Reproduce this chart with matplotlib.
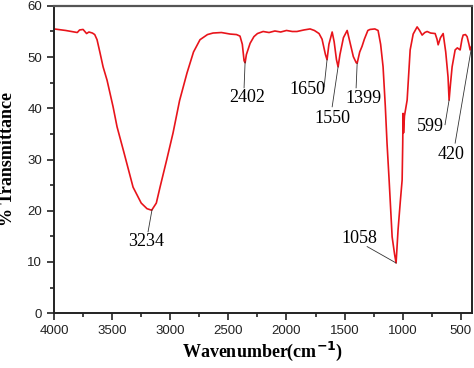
import matplotlib; matplotlib.use("Agg")
import matplotlib.pyplot as plt
from matplotlib.ticker import MultipleLocator

# traced FTIR spectrum (wavenumber cm-1, % transmittance)
wavenumber = [4000, 3900, 3850, 3800, 3780, 3750, 3720, 3700, 3670, 3650, 3630,
              3604, 3578, 3544, 3492, 3458, 3400, 3320, 3250, 3200, 3160, 3120,
              3088, 3030, 2976, 2920, 2856, 2800, 2744, 2680, 2632, 2560, 2485,
              2430, 2400, 2380, 2365, 2356, 2345, 2313, 2280, 2250, 2201, 2150,
              2100, 2050, 2000, 1950, 1910, 1850, 1797, 1760, 1720, 1694, 1665,
              1651, 1635, 1607, 1590, 1570, 1556, 1540, 1510, 1478, 1455, 1425,
              1400, 1392, 1370, 1350, 1330, 1300, 1281, 1240, 1212, 1190, 1169,
              1150, 1135, 1117, 1091, 1070, 1057, 1040, 1020, 1005, 1000, 997,
              993, 985, 962, 936, 910, 876, 855, 833, 810, 790, 760, 721, 705,
              695, 675, 652, 630, 610, 601, 590, 575, 549, 530, 506, 490, 480,
              460, 446, 430, 420, 410, 403]
transmittance = [55.5, 55.2, 55.0, 54.8, 55.3, 55.4, 54.6, 54.9, 54.7, 54.4, 53.4,
                 50.8, 48.1, 45.5, 40.3, 36.4, 31.5, 24.6, 21.5, 20.4, 20.1, 21.5,
                 24.6, 30.0, 35.2, 41.5, 46.9, 51.0, 53.4, 54.4, 54.7, 54.8, 54.5,
                 54.4, 54.1, 52.5, 49.3, 48.9, 50.5, 52.7, 54.0, 54.6, 55.0, 54.8,
                 55.1, 54.9, 55.2, 55.0, 55.0, 55.3, 55.5, 55.2, 54.6, 53.5, 50.5,
                 49.5, 52.5, 54.9, 53.0, 49.5, 48.1, 50.5, 53.8, 55.2, 53.0, 50.1,
                 48.9, 48.8, 51.0, 52.1, 53.5, 55.2, 55.4, 55.5, 55.2, 52.5, 48.1,
                 40.5, 33.2, 26.0, 14.9, 11.5, 9.8, 16.3, 22.0, 26.0, 33.0, 39.0,
                 35.2, 38.5, 41.6, 51.4, 54.5, 55.9, 55.2, 54.3, 54.8, 55.0, 54.7,
                 54.6, 53.5, 52.4, 53.8, 54.6, 51.0, 46.1, 41.6, 44.5, 48.1, 51.4,
                 51.8, 51.4, 53.5, 54.3, 54.4, 54.0, 52.5, 51.4, 52.0, 52.4]

# peak labels: text, peak point, text centre, leader-line start
peak_labels = ["3234", "2402", "1650", "1550", "1399", "1058", "599", "420"]
peak_xy = [(3157, 20.2), (2356, 49.1), (1651, 49.5), (1556, 48.1),
           (1392, 48.8), (1057, 9.8), (601, 41.6), (412, 51.4)]
text_xy = [(3208, 13.9), (2340, 42.2), (1823, 43.6), (1607, 38.1),
           (1341, 42.0), (1375, 14.5), (764, 36.4), (584, 31.0)]
line_xy = [(3191, 15.9), (2365, 44.0), (1676, 44.2), (1607, 40.3),
           (1401, 44.0), (1306, 13.0), (636, 36.8), (549, 33.2)]

fig = plt.figure(figsize=(4.74, 3.68), dpi=100)
ax = fig.add_axes([0.114, 0.149, 0.882, 0.835])

ax.plot(wavenumber, transmittance, color="#e8141b", lw=1.2)

for lbl, p, t, s in zip(peak_labels, peak_xy, text_xy, line_xy):
    ax.plot([s[0], p[0]], [s[1], p[1]], color="#333333", lw=0.6)
    ax.text(t[0], t[1], lbl, ha="center", va="center", fontsize=13,
            family="Liberation Serif")

ax.set_xlim(4000, 403)
ax.set_ylim(0, 60)
ax.xaxis.set_major_locator(MultipleLocator(500))
ax.xaxis.set_minor_locator(MultipleLocator(250))
ax.yaxis.set_major_locator(MultipleLocator(10))
ax.yaxis.set_minor_locator(MultipleLocator(5))
ax.tick_params(which="both", direction="out", width=1.2, colors="#222222",
               labelsize=9.5)
ax.tick_params(which="major", length=5)
ax.tick_params(which="minor", length=3)
for lab in ax.get_xticklabels() + ax.get_yticklabels():
    lab.set_family("Liberation Sans")

for side in ["left", "bottom", "right"]:
    ax.spines[side].set_linewidth(1.4)
    ax.spines[side].set_color("#222222")
ax.spines["top"].set_linewidth(1.6)
ax.spines["top"].set_color("#555555")

fig.text(0.555, 0.045, r"Wavenumber(cm$^{\mathbf{-1}}$)", ha="center", va="center",
         fontsize=13, fontweight="bold", family="Liberation Serif")
fig.text(0.016, 0.567, "% Transmittance", ha="center", va="center", rotation=90,
         fontsize=13, fontweight="bold", family="Liberation Serif")

fig.savefig("out.png", dpi=100)
